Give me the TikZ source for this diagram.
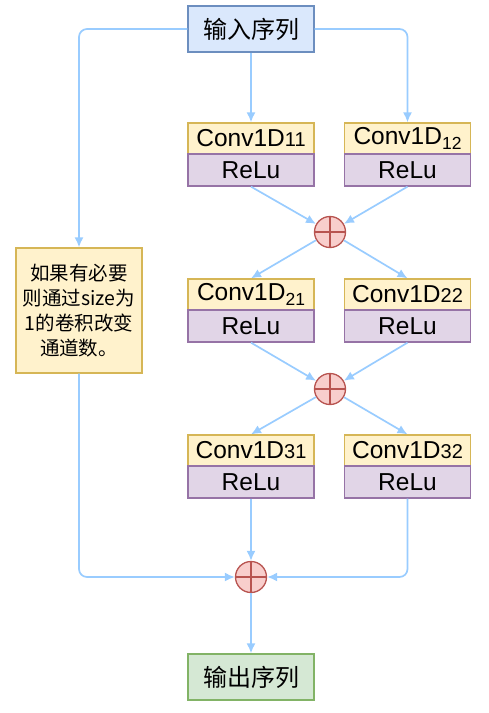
\documentclass[tikz,border=0pt]{standalone}
\usepackage{fontspec}
\setmainfont{Liberation Sans}
\newfontfamily\cjk{Noto Sans CJK SC}
\usetikzlibrary{arrows.meta}
\definecolor{blueF}{HTML}{DAE8FC}\definecolor{blueD}{HTML}{6C8EBF}
\definecolor{yelF}{HTML}{FFF2CC}\definecolor{yelD}{HTML}{D6B656}
\definecolor{purF}{HTML}{E1D5E7}\definecolor{purD}{HTML}{9673A6}
\definecolor{grnF}{HTML}{D5E8D4}\definecolor{grnD}{HTML}{82B366}
\definecolor{redF}{HTML}{F8CECC}\definecolor{redD}{HTML}{B85450}
\definecolor{arr}{HTML}{99CCFF}
\begin{document}
\begin{tikzpicture}[x=1pt,y=-1pt,
  box/.style={draw,line width=1.3pt,minimum width=126pt,inner sep=0pt,font=\fontsize{24.5}{28}\selectfont},
  io/.style={box,minimum height=46pt,font=\cjk\fontsize{24}{28}\selectfont},
  convbox/.style={box,fill=yelF,draw=yelD,minimum height=31pt},
  relubox/.style={box,fill=purF,draw=purD,minimum height=32pt},
  plusnode/.style={circle,draw=redD,fill=redF,line width=1.3pt,minimum size=31pt,inner sep=0pt,
     path picture={\draw[redD,line width=1.3pt] (path picture bounding box.north) -- (path picture bounding box.south)
       (path picture bounding box.west) -- (path picture bounding box.east);}},
  flow/.style={draw=arr,line width=1.7pt,-{Latex[length=10pt,width=9pt]},rounded corners=8pt}
]
\useasboundingbox (0,0) rectangle (488,713);
\newcommand{\sm}[1]{{\fontsize{20}{22}\selectfont #1}}
\newcommand{\lo}[1]{\raisebox{-5pt}{\fontsize{17.5}{20}\selectfont #1}}
\node[io,fill=blueF,draw=blueD] (in) at (251,29) {输入序列};
\node[io,fill=grnF,draw=grnD] (out) at (251,677) {输出序列};
\node[box,fill=yelF,draw=yelD,minimum height=125pt,align=center,
  font=\cjk\fontsize{19.5}{25}\selectfont] (note) at (79,310.5) {如果有必要\\则通过size为\\1的卷积改变\\通道数。};

\node[convbox] (c11) at (251,138.5) {Conv1D\sm{11}};
\node[relubox] (r11) at (251,170) {ReLu};
\node[convbox] (c12) at (407.5,138.5) {Conv1D\lo{12}};
\node[relubox] (r12) at (407.5,170) {ReLu};
\node[plusnode] (p1) at (330,232) {};

\node[convbox] (c21) at (251,294.5) {Conv1D\lo{21}};
\node[relubox] (r21) at (251,326) {ReLu};
\node[convbox] (c22) at (407.5,294.5) {Conv1D\sm{22}};
\node[relubox] (r22) at (407.5,326) {ReLu};
\node[plusnode] (p2) at (330,389) {};

\node[convbox] (c31) at (251,450.5) {Conv1D\sm{31}};
\node[relubox] (r31) at (251,482) {ReLu};
\node[convbox] (c32) at (407.5,450.5) {Conv1D\sm{32}};
\node[relubox] (r32) at (407.5,482) {ReLu};
\node[plusnode] (p3) at (251,577) {};

\draw[flow] (in.west) -| (note.north);
\draw[flow] (in.east) -| (c12.north);
\draw[flow] (in.south) -- (c11.north);
\draw[flow] (r11.south) -- (p1);
\draw[flow] (r12.south) -- (p1);
\draw[flow] (p1) -- (c21.north);
\draw[flow] (p1) -- (c22.north);
\draw[flow] (r21.south) -- (p2);
\draw[flow] (r22.south) -- (p2);
\draw[flow] (p2) -- (c31.north);
\draw[flow] (p2) -- (c32.north);
\draw[flow] (r31.south) -- (p3.north);
\draw[flow] (r32.south) |- (p3.east);
\draw[flow] (note.south) |- (p3.west);
\draw[flow] (p3.south) -- (out.north);
\end{tikzpicture}
\end{document}
